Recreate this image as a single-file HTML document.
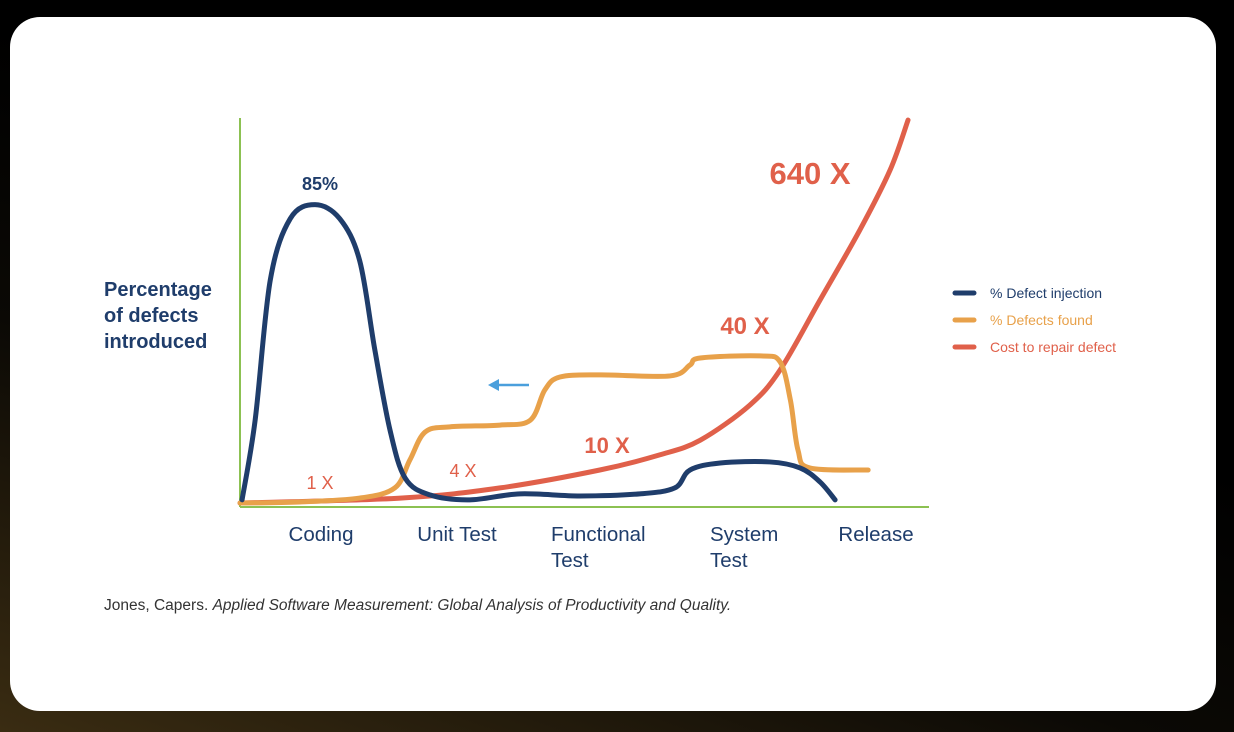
<!DOCTYPE html>
<html><head><meta charset="utf-8"><style>
html,body{margin:0;padding:0;width:1234px;height:732px;overflow:hidden;background:linear-gradient(20deg,#3a2c12 0%,#0b0905 35%,#000 60%);font-family:"Liberation Sans",sans-serif;}
#card{position:absolute;left:10px;top:17px;width:1206px;height:694px;background:#fff;border-radius:30px;}
svg{position:absolute;left:0;top:0;}
</style></head><body>
<div id="card"></div>
<svg id="chart" width="1234" height="732">
<g id="axes">
<line x1="240" y1="118" x2="240" y2="507" stroke="#8cc152" stroke-width="2"/>
<line x1="240" y1="507" x2="929" y2="507" stroke="#8cc152" stroke-width="2"/>
</g>
<g id="series"></g>
<g font-family="Liberation Sans, sans-serif">
<text x="104" y="296" font-size="20" font-weight="bold" fill="#1f3d6b"><tspan x="104">Percentage</tspan><tspan x="104" dy="26">of defects</tspan><tspan x="104" dy="26">introduced</tspan></text>
<text x="320" y="190" font-size="18" font-weight="bold" fill="#1f3d6b" text-anchor="middle">85%</text>
<text x="810" y="184" font-size="31" font-weight="bold" fill="#e0604a" text-anchor="middle">640 X</text>
<text x="745" y="334" font-size="24" font-weight="bold" fill="#e0604a" text-anchor="middle">40 X</text>
<text x="607" y="453" font-size="22" font-weight="bold" fill="#e0604a" text-anchor="middle">10 X</text>
<text x="463" y="477" font-size="18" fill="#e0604a" text-anchor="middle">4 X</text>
<text x="320" y="489" font-size="18" fill="#e0604a" text-anchor="middle">1 X</text>
<g><line x1="495" y1="385" x2="529" y2="385" stroke="#4a9fdc" stroke-width="2.5"/><path d="M488 385 L499 379 L499 391 Z" fill="#4a9fdc"/></g>
<g font-size="20.5" fill="#1f3d6b">
<text x="321" y="541" text-anchor="middle">Coding</text>
<text x="457" y="541" text-anchor="middle">Unit Test</text>
<text x="551" y="541"><tspan x="551">Functional</tspan><tspan x="551" dy="26">Test</tspan></text>
<text x="710" y="541"><tspan x="710">System</tspan><tspan x="710" dy="26">Test</tspan></text>
<text x="876" y="541" text-anchor="middle">Release</text>
</g>
<text x="104" y="610" font-size="15.5" fill="#333">Jones, Capers. <tspan font-style="italic">Applied Software Measurement: Global Analysis of Productivity and Quality.</tspan></text>
<g font-size="14">
<g><line x1="955" y1="293" x2="974" y2="293" stroke="#1f3d6b" stroke-width="5" stroke-linecap="round"/><text x="990" y="298" fill="#1f3d6b">% Defect injection</text></g>
<g><line x1="955" y1="320" x2="974" y2="320" stroke="#e8a14a" stroke-width="5" stroke-linecap="round"/><text x="990" y="325" fill="#e8a14a">% Defects found</text></g>
<g><line x1="955" y1="347" x2="974" y2="347" stroke="#e0604a" stroke-width="5" stroke-linecap="round"/><text x="990" y="352" fill="#e0604a">Cost to repair defect</text></g>
</g>
</g>
</svg>
<script>
const injectionX=[0.3,2.2,4.4,7.3,10.9,14.5,17.4,19.6,21.8,24,27.6,33.4,40.7,49.4,58.1,63.2,65.4,69.8,77,81.4,84.3,86.5];
const injectionY=[0.9,23.6,63.5,81,85,81,69,43.6,20.8,7.1,2.3,0.9,2.6,2,2.6,4.3,9.4,11.4,11.7,10,6,0.9];
const foundX=[0,8.7,17.4,22.5,24.7,26.9,30.5,37.8,42.2,44.3,46.5,52.3,62.5,65.4,66.9,75.6,78.5,80,81.1,82.8,91.3];
const foundY=[0,0.3,1.4,4.3,12.3,20.2,21.7,22.2,23.6,32.2,35.9,36.5,36.2,39.3,41.3,41.9,40.2,29.3,15.1,10,9.4];
const costX=[0,23.3,37.8,52.3,61,66.9,74.1,78.5,84.3,90.1,94.5,97.1];
const costY=[0,1.4,4.3,9.4,13.7,17.9,27.9,37.9,57.8,77.8,94.9,109.1];
function sx(v){return 240+v*6.88;}
function sy(v){return 503-v*3.51;}
function pathFor(xs,ys){
  const p=xs.map((x,i)=>[sx(x),sy(ys[i])]);
  let d='M'+p[0][0]+' '+p[0][1];
  for(let i=0;i<p.length-1;i++){
    const p0=p[i-1]||p[i],p1=p[i],p2=p[i+1],p3=p[i+2]||p2;
    const c1=[p1[0]+(p2[0]-p0[0])/6,p1[1]+(p2[1]-p0[1])/6];
    const c2=[p2[0]-(p3[0]-p1[0])/6,p2[1]-(p3[1]-p1[1])/6];
    d+=' C'+c1[0]+' '+c1[1]+' '+c2[0]+' '+c2[1]+' '+p2[0]+' '+p2[1];
  }
  return d;
}
const g=document.getElementById('series');
function add(xs,ys,color,name){
  const el=document.createElementNS('http://www.w3.org/2000/svg','path');
  el.setAttribute('d',pathFor(xs,ys));
  el.setAttribute('fill','none');
  el.setAttribute('stroke',color);
  el.setAttribute('stroke-width','5');
  el.setAttribute('stroke-linecap','round');
  el.setAttribute('stroke-linejoin','round');
  
  
  g.appendChild(el);
}
add(costX,costY,'#e0604a','cost-to-repair-line');
add(foundX,foundY,'#e8a14a','defects-found-line');
add(injectionX,injectionY,'#1f3d6b','defect-injection-line');
</script>
</body></html>
